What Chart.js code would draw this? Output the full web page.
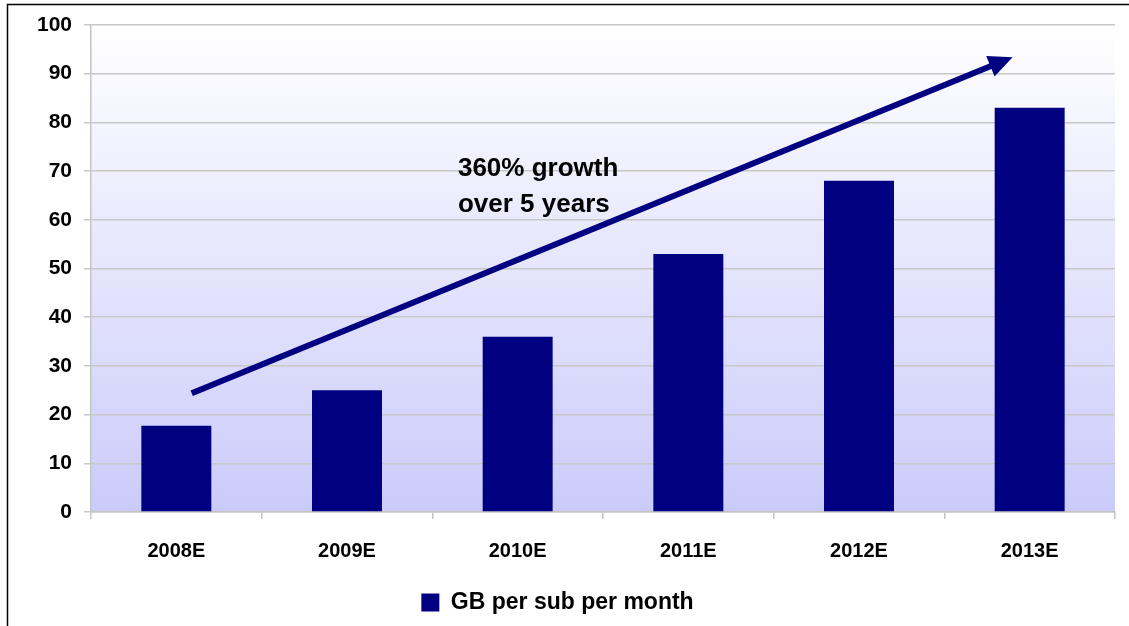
<!DOCTYPE html>
<html>
<head>
<meta charset="utf-8">
<script src="https://cdn.jsdelivr.net/npm/chart.js@4"></script>
<style>
  html, body { margin: 0; padding: 0; background: #fff; }
  #wrap { width: 1129px; height: 626px; }
</style>
</head>
<body>
<div id="wrap"><canvas id="gbChart" width="1129" height="626"></canvas></div>
<script>
// Chart data
const categories = ['2008E', '2009E', '2010E', '2011E', '2012E', '2013E'];
const gbPerSub = [17.7, 25, 36, 53, 68, 83];
const seriesLabel = 'GB per sub per month';
const yMin = 0, yMax = 100, yStep = 10;

// Growth arrow + note, in data units (category index, value)
const arrowFrom = [0.09, 24.4];
const arrowTo = [4.9, 93.4];
const noteLines = ['360% growth', 'over 5 years'];
const noteAt = [1.65, 70.4];

const FONT = "'Liberation Sans', Arial, sans-serif";
const NAVY = '#000080';

const decorPlugin = {
    id: 'decor',
    beforeDraw(chart) {
        const ctx = chart.ctx;
        const a = chart.chartArea;
        ctx.save();
        ctx.fillStyle = '#ffffff';
        ctx.fillRect(0, 0, chart.width, chart.height);
        const g = ctx.createLinearGradient(0, a.top, 0, a.bottom);
        g.addColorStop(0, '#ffffff');
        g.addColorStop(1, '#cbcbfb');
        ctx.fillStyle = g;
        ctx.fillRect(a.left, a.top, a.right - a.left, a.bottom - a.top);
        ctx.restore();
    },
    afterDatasetsDraw(chart) {
        const ctx = chart.ctx;
        const xs = chart.scales.x, ys = chart.scales.y;
        const x0 = xs.getPixelForValue(arrowFrom[0]), y0 = ys.getPixelForValue(arrowFrom[1]);
        const x1 = xs.getPixelForValue(arrowTo[0]), y1 = ys.getPixelForValue(arrowTo[1]);
        const ang = Math.atan2(y1 - y0, x1 - x0);
        const headLen = 24, headHalf = 11;
        const bx = x1 - headLen * Math.cos(ang), by = y1 - headLen * Math.sin(ang);
        ctx.save();
        ctx.strokeStyle = NAVY;
        ctx.fillStyle = NAVY;
        ctx.lineWidth = 6;
        ctx.lineCap = 'butt';
        ctx.beginPath();
        ctx.moveTo(x0, y0);
        ctx.lineTo(bx + 2 * Math.cos(ang), by + 2 * Math.sin(ang));
        ctx.stroke();
        ctx.beginPath();
        ctx.moveTo(x1, y1);
        ctx.lineTo(bx + headHalf * Math.sin(ang), by - headHalf * Math.cos(ang));
        ctx.lineTo(bx - headHalf * Math.sin(ang), by + headHalf * Math.cos(ang));
        ctx.closePath();
        ctx.fill();

        // note text
        ctx.fillStyle = '#000';
        ctx.font = 'bold 26px ' + FONT;
        ctx.textAlign = 'left';
        ctx.textBaseline = 'middle';
        const tx = xs.getPixelForValue(noteAt[0]);
        const ty = ys.getPixelForValue(noteAt[1]);
        noteLines.forEach(function(line, i) {
            ctx.fillText(line, tx, ty + i * 36);
        });
        ctx.restore();
    },
    afterDraw(chart) {
        const ctx = chart.ctx;
        ctx.save();
        ctx.strokeStyle = '#000';
        ctx.lineWidth = 1.5;
        ctx.strokeRect(7.5, 4.5, chart.width + 10, chart.height + 10);
        ctx.restore();
    }
};

const ctx = document.getElementById('gbChart').getContext('2d');
window.gbChart = new Chart(ctx, {
    type: 'bar',
    data: {
        labels: categories,
        datasets: [{
            label: seriesLabel,
            data: gbPerSub,
            backgroundColor: NAVY,
            borderWidth: 0,
            barPercentage: 0.41,
            categoryPercentage: 1.0
        }]
    },
    options: {
        responsive: false,
        animation: false,
        devicePixelRatio: 1,
        layout: {
            padding: { top: 25, right: 14, left: 0, bottom: 2 }
        },
        plugins: {
            legend: {
                position: 'bottom',
                labels: {
                    color: '#000',
                    font: { family: FONT, size: 23, weight: 'bold' },
                    boxWidth: 18,
                    boxHeight: 18,
                    padding: 10
                }
            },
            tooltip: { enabled: false }
        },
        scales: {
            x: {
                afterFit: function(scale) { scale.height = 69; },
                grid: {
                    offset: true,
                    drawOnChartArea: true,
                    color: function(c) {
                        return c.index === categories.length ? '#c4c4c4' : 'rgba(0,0,0,0)';
                    },
                    tickColor: '#c4c4c4',
                    tickLength: 7,
                    lineWidth: 1.5
                },
                border: { color: '#c4c4c4', width: 1.5 },
                ticks: {
                    color: '#000',
                    font: { family: FONT, size: 20, weight: 'bold' },
                    padding: 20,
                    maxRotation: 0
                }
            },
            y: {
                min: yMin,
                max: yMax,
                afterFit: function(scale) { scale.width = 91; },
                grid: {
                    color: '#c8c8c8',
                    tickColor: '#c8c8c8',
                    tickLength: 7,
                    lineWidth: 1.5
                },
                border: { color: '#c4c4c4', width: 1.5 },
                ticks: {
                    stepSize: yStep,
                    color: '#000',
                    font: { family: FONT, size: 21, weight: 'bold' },
                    padding: 12
                }
            }
        }
    },
    plugins: [decorPlugin]
});
</script>
</body>
</html>
